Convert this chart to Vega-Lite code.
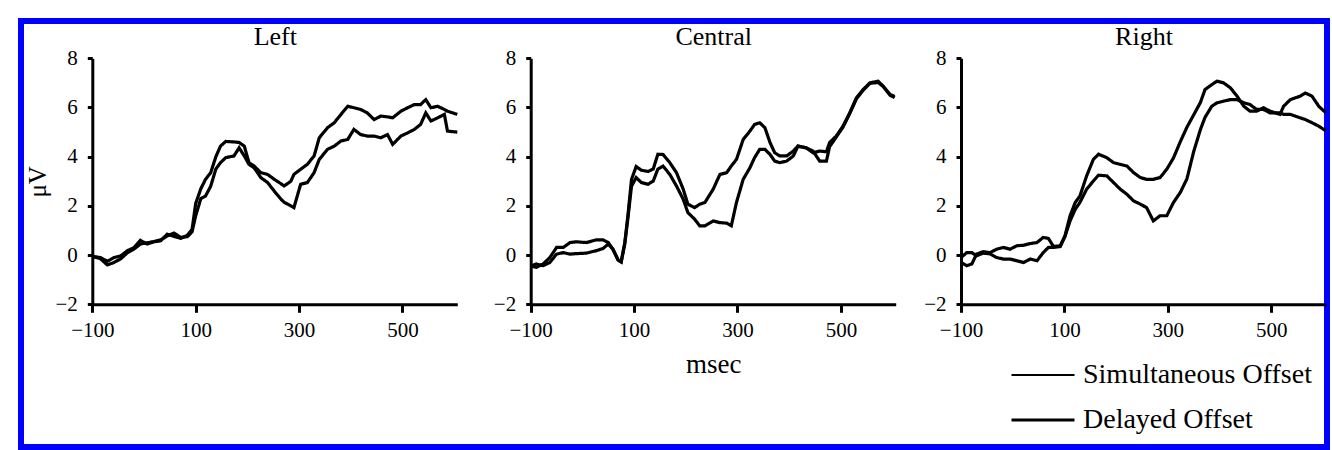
{
  "$schema": "https://vega.github.io/schema/vega-lite/v6.json",
  "width": 1306,
  "height": 426,
  "autosize": "none",
  "padding": {"left": 21, "top": 21, "right": 5, "bottom": 3},
  "background": "white",
  "datasets": {
    "left": [
      {"c":"Simultaneous Offset","t":-100,"v":-0.05},{"c":"Simultaneous Offset","t":-84,"v":-0.1},{"c":"Simultaneous Offset","t":-71,"v":-0.25},{"c":"Simultaneous Offset","t":-58,"v":-0.1},{"c":"Simultaneous Offset","t":-45,"v":-0.03},{"c":"Simultaneous Offset","t":-32,"v":0.18},{"c":"Simultaneous Offset","t":-19,"v":0.31},{"c":"Simultaneous Offset","t":-7,"v":0.6},{"c":"Simultaneous Offset","t":6,"v":0.45},{"c":"Simultaneous Offset","t":19,"v":0.54},{"c":"Simultaneous Offset","t":32,"v":0.58},{"c":"Simultaneous Offset","t":45,"v":0.85},{"c":"Simultaneous Offset","t":58,"v":0.76},{"c":"Simultaneous Offset","t":71,"v":0.68},{"c":"Simultaneous Offset","t":84,"v":0.81},{"c":"Simultaneous Offset","t":93,"v":1.05},{"c":"Simultaneous Offset","t":100,"v":2.1},{"c":"Simultaneous Offset","t":110,"v":2.7},{"c":"Simultaneous Offset","t":119,"v":3.08},{"c":"Simultaneous Offset","t":129,"v":3.35},{"c":"Simultaneous Offset","t":139,"v":4.0},{"c":"Simultaneous Offset","t":148,"v":4.43},{"c":"Simultaneous Offset","t":158,"v":4.62},{"c":"Simultaneous Offset","t":174,"v":4.6},{"c":"Simultaneous Offset","t":184,"v":4.58},{"c":"Simultaneous Offset","t":194,"v":4.43},{"c":"Simultaneous Offset","t":203,"v":3.76},{"c":"Simultaneous Offset","t":213,"v":3.62},{"c":"Simultaneous Offset","t":226,"v":3.35},{"c":"Simultaneous Offset","t":239,"v":3.28},{"c":"Simultaneous Offset","t":252,"v":3.08},{"c":"Simultaneous Offset","t":265,"v":2.9},{"c":"Simultaneous Offset","t":271,"v":2.81},{"c":"Simultaneous Offset","t":284,"v":3.0},{"c":"Simultaneous Offset","t":290,"v":3.28},{"c":"Simultaneous Offset","t":303,"v":3.49},{"c":"Simultaneous Offset","t":316,"v":3.69},{"c":"Simultaneous Offset","t":329,"v":4.03},{"c":"Simultaneous Offset","t":339,"v":4.77},{"c":"Simultaneous Offset","t":355,"v":5.18},{"c":"Simultaneous Offset","t":368,"v":5.38},{"c":"Simultaneous Offset","t":381,"v":5.72},{"c":"Simultaneous Offset","t":394,"v":6.05},{"c":"Simultaneous Offset","t":406,"v":5.99},{"c":"Simultaneous Offset","t":419,"v":5.92},{"c":"Simultaneous Offset","t":432,"v":5.78},{"c":"Simultaneous Offset","t":445,"v":5.51},{"c":"Simultaneous Offset","t":458,"v":5.65},{"c":"Simultaneous Offset","t":471,"v":5.62},{"c":"Simultaneous Offset","t":481,"v":5.58},{"c":"Simultaneous Offset","t":497,"v":5.85},{"c":"Simultaneous Offset","t":510,"v":5.99},{"c":"Simultaneous Offset","t":523,"v":6.12},{"c":"Simultaneous Offset","t":535,"v":6.12},{"c":"Simultaneous Offset","t":545,"v":6.32},{"c":"Simultaneous Offset","t":555,"v":5.99},{"c":"Simultaneous Offset","t":568,"v":6.05},{"c":"Simultaneous Offset","t":581,"v":5.92},{"c":"Simultaneous Offset","t":587,"v":5.85},{"c":"Simultaneous Offset","t":606,"v":5.72},
      {"c":"Delayed Offset","t":-100,"v":-0.05},{"c":"Delayed Offset","t":-84,"v":-0.15},{"c":"Delayed Offset","t":-71,"v":-0.4},{"c":"Delayed Offset","t":-58,"v":-0.3},{"c":"Delayed Offset","t":-45,"v":-0.15},{"c":"Delayed Offset","t":-32,"v":0.1},{"c":"Delayed Offset","t":-19,"v":0.25},{"c":"Delayed Offset","t":-7,"v":0.45},{"c":"Delayed Offset","t":6,"v":0.5},{"c":"Delayed Offset","t":19,"v":0.55},{"c":"Delayed Offset","t":32,"v":0.62},{"c":"Delayed Offset","t":45,"v":0.78},{"c":"Delayed Offset","t":58,"v":0.9},{"c":"Delayed Offset","t":71,"v":0.72},{"c":"Delayed Offset","t":84,"v":0.75},{"c":"Delayed Offset","t":93,"v":0.95},{"c":"Delayed Offset","t":100,"v":1.6},{"c":"Delayed Offset","t":110,"v":2.3},{"c":"Delayed Offset","t":119,"v":2.4},{"c":"Delayed Offset","t":129,"v":2.8},{"c":"Delayed Offset","t":139,"v":3.5},{"c":"Delayed Offset","t":148,"v":3.76},{"c":"Delayed Offset","t":158,"v":3.96},{"c":"Delayed Offset","t":174,"v":4.03},{"c":"Delayed Offset","t":184,"v":4.36},{"c":"Delayed Offset","t":194,"v":4.03},{"c":"Delayed Offset","t":203,"v":3.69},{"c":"Delayed Offset","t":213,"v":3.55},{"c":"Delayed Offset","t":226,"v":3.15},{"c":"Delayed Offset","t":239,"v":2.95},{"c":"Delayed Offset","t":252,"v":2.6},{"c":"Delayed Offset","t":265,"v":2.27},{"c":"Delayed Offset","t":271,"v":2.15},{"c":"Delayed Offset","t":284,"v":2.0},{"c":"Delayed Offset","t":290,"v":1.93},{"c":"Delayed Offset","t":303,"v":2.88},{"c":"Delayed Offset","t":316,"v":2.95},{"c":"Delayed Offset","t":329,"v":3.35},{"c":"Delayed Offset","t":339,"v":3.89},{"c":"Delayed Offset","t":355,"v":4.3},{"c":"Delayed Offset","t":368,"v":4.43},{"c":"Delayed Offset","t":381,"v":4.64},{"c":"Delayed Offset","t":394,"v":4.7},{"c":"Delayed Offset","t":406,"v":5.11},{"c":"Delayed Offset","t":419,"v":4.9},{"c":"Delayed Offset","t":432,"v":4.84},{"c":"Delayed Offset","t":445,"v":4.84},{"c":"Delayed Offset","t":458,"v":4.77},{"c":"Delayed Offset","t":471,"v":4.9},{"c":"Delayed Offset","t":481,"v":4.5},{"c":"Delayed Offset","t":497,"v":4.84},{"c":"Delayed Offset","t":510,"v":4.97},{"c":"Delayed Offset","t":523,"v":5.11},{"c":"Delayed Offset","t":535,"v":5.31},{"c":"Delayed Offset","t":545,"v":5.78},{"c":"Delayed Offset","t":555,"v":5.45},{"c":"Delayed Offset","t":568,"v":5.58},{"c":"Delayed Offset","t":581,"v":5.72},{"c":"Delayed Offset","t":587,"v":5.04},{"c":"Delayed Offset","t":606,"v":5.0}
    ],
    "central": [
      {"c":"Simultaneous Offset","t":-100,"v":-0.45},{"c":"Simultaneous Offset","t":-89,"v":-0.5},{"c":"Simultaneous Offset","t":-76,"v":-0.36},{"c":"Simultaneous Offset","t":-63,"v":-0.1},{"c":"Simultaneous Offset","t":-50,"v":0.31},{"c":"Simultaneous Offset","t":-37,"v":0.31},{"c":"Simultaneous Offset","t":-24,"v":0.51},{"c":"Simultaneous Offset","t":-12,"v":0.54},{"c":"Simultaneous Offset","t":8,"v":0.51},{"c":"Simultaneous Offset","t":27,"v":0.62},{"c":"Simultaneous Offset","t":40,"v":0.62},{"c":"Simultaneous Offset","t":50,"v":0.51},{"c":"Simultaneous Offset","t":59,"v":0.24},{"c":"Simultaneous Offset","t":69,"v":-0.2},{"c":"Simultaneous Offset","t":75,"v":-0.28},{"c":"Simultaneous Offset","t":82,"v":0.51},{"c":"Simultaneous Offset","t":88,"v":1.6},{"c":"Simultaneous Offset","t":95,"v":3.08},{"c":"Simultaneous Offset","t":104,"v":3.6},{"c":"Simultaneous Offset","t":114,"v":3.45},{"c":"Simultaneous Offset","t":127,"v":3.4},{"c":"Simultaneous Offset","t":137,"v":3.5},{"c":"Simultaneous Offset","t":146,"v":4.1},{"c":"Simultaneous Offset","t":156,"v":4.09},{"c":"Simultaneous Offset","t":169,"v":3.76},{"c":"Simultaneous Offset","t":182,"v":3.35},{"c":"Simultaneous Offset","t":195,"v":2.68},{"c":"Simultaneous Offset","t":204,"v":2.07},{"c":"Simultaneous Offset","t":217,"v":1.93},{"c":"Simultaneous Offset","t":227,"v":2.07},{"c":"Simultaneous Offset","t":237,"v":2.14},{"c":"Simultaneous Offset","t":253,"v":2.68},{"c":"Simultaneous Offset","t":266,"v":3.28},{"c":"Simultaneous Offset","t":279,"v":3.35},{"c":"Simultaneous Offset","t":288,"v":3.62},{"c":"Simultaneous Offset","t":298,"v":3.89},{"c":"Simultaneous Offset","t":311,"v":4.7},{"c":"Simultaneous Offset","t":324,"v":5.04},{"c":"Simultaneous Offset","t":333,"v":5.31},{"c":"Simultaneous Offset","t":343,"v":5.38},{"c":"Simultaneous Offset","t":353,"v":5.18},{"c":"Simultaneous Offset","t":363,"v":4.57},{"c":"Simultaneous Offset","t":372,"v":4.16},{"c":"Simultaneous Offset","t":382,"v":4.03},{"c":"Simultaneous Offset","t":395,"v":4.03},{"c":"Simultaneous Offset","t":408,"v":4.23},{"c":"Simultaneous Offset","t":417,"v":4.43},{"c":"Simultaneous Offset","t":433,"v":4.36},{"c":"Simultaneous Offset","t":446,"v":4.16},{"c":"Simultaneous Offset","t":459,"v":4.23},{"c":"Simultaneous Offset","t":472,"v":4.2},{"c":"Simultaneous Offset","t":478,"v":4.57},{"c":"Simultaneous Offset","t":491,"v":4.84},{"c":"Simultaneous Offset","t":504,"v":5.24},{"c":"Simultaneous Offset","t":517,"v":5.78},{"c":"Simultaneous Offset","t":530,"v":6.39},{"c":"Simultaneous Offset","t":543,"v":6.73},{"c":"Simultaneous Offset","t":556,"v":7.0},{"c":"Simultaneous Offset","t":572,"v":7.07},{"c":"Simultaneous Offset","t":582,"v":6.86},{"c":"Simultaneous Offset","t":595,"v":6.53},{"c":"Simultaneous Offset","t":604,"v":6.45},
      {"c":"Delayed Offset","t":-100,"v":-0.45},{"c":"Delayed Offset","t":-89,"v":-0.36},{"c":"Delayed Offset","t":-76,"v":-0.43},{"c":"Delayed Offset","t":-63,"v":-0.3},{"c":"Delayed Offset","t":-50,"v":0.04},{"c":"Delayed Offset","t":-37,"v":0.1},{"c":"Delayed Offset","t":-24,"v":0.04},{"c":"Delayed Offset","t":-12,"v":0.06},{"c":"Delayed Offset","t":8,"v":0.08},{"c":"Delayed Offset","t":27,"v":0.18},{"c":"Delayed Offset","t":40,"v":0.27},{"c":"Delayed Offset","t":50,"v":0.45},{"c":"Delayed Offset","t":59,"v":0.24},{"c":"Delayed Offset","t":69,"v":-0.2},{"c":"Delayed Offset","t":75,"v":-0.28},{"c":"Delayed Offset","t":82,"v":0.45},{"c":"Delayed Offset","t":88,"v":1.5},{"c":"Delayed Offset","t":95,"v":2.8},{"c":"Delayed Offset","t":104,"v":3.15},{"c":"Delayed Offset","t":114,"v":2.95},{"c":"Delayed Offset","t":127,"v":2.88},{"c":"Delayed Offset","t":137,"v":3.01},{"c":"Delayed Offset","t":146,"v":3.5},{"c":"Delayed Offset","t":156,"v":3.62},{"c":"Delayed Offset","t":169,"v":3.28},{"c":"Delayed Offset","t":182,"v":2.81},{"c":"Delayed Offset","t":195,"v":2.27},{"c":"Delayed Offset","t":204,"v":1.73},{"c":"Delayed Offset","t":217,"v":1.46},{"c":"Delayed Offset","t":227,"v":1.19},{"c":"Delayed Offset","t":237,"v":1.19},{"c":"Delayed Offset","t":253,"v":1.39},{"c":"Delayed Offset","t":266,"v":1.32},{"c":"Delayed Offset","t":279,"v":1.3},{"c":"Delayed Offset","t":288,"v":1.19},{"c":"Delayed Offset","t":298,"v":2.14},{"c":"Delayed Offset","t":311,"v":3.08},{"c":"Delayed Offset","t":324,"v":3.55},{"c":"Delayed Offset","t":333,"v":3.96},{"c":"Delayed Offset","t":343,"v":4.3},{"c":"Delayed Offset","t":353,"v":4.3},{"c":"Delayed Offset","t":363,"v":4.09},{"c":"Delayed Offset","t":372,"v":3.82},{"c":"Delayed Offset","t":382,"v":3.76},{"c":"Delayed Offset","t":395,"v":3.82},{"c":"Delayed Offset","t":408,"v":4.03},{"c":"Delayed Offset","t":417,"v":4.43},{"c":"Delayed Offset","t":433,"v":4.36},{"c":"Delayed Offset","t":446,"v":4.23},{"c":"Delayed Offset","t":459,"v":3.82},{"c":"Delayed Offset","t":472,"v":3.82},{"c":"Delayed Offset","t":478,"v":4.4},{"c":"Delayed Offset","t":491,"v":4.8},{"c":"Delayed Offset","t":504,"v":5.2},{"c":"Delayed Offset","t":517,"v":5.75},{"c":"Delayed Offset","t":530,"v":6.35},{"c":"Delayed Offset","t":543,"v":6.7},{"c":"Delayed Offset","t":556,"v":6.98},{"c":"Delayed Offset","t":572,"v":7.02},{"c":"Delayed Offset","t":582,"v":6.85},{"c":"Delayed Offset","t":595,"v":6.5},{"c":"Delayed Offset","t":604,"v":6.4}
    ],
    "right": [
      {"c":"Simultaneous Offset","t":-100,"v":-0.3},{"c":"Simultaneous Offset","t":-89,"v":-0.43},{"c":"Simultaneous Offset","t":-79,"v":-0.36},{"c":"Simultaneous Offset","t":-70,"v":0.04},{"c":"Simultaneous Offset","t":-57,"v":0.14},{"c":"Simultaneous Offset","t":-44,"v":0.1},{"c":"Simultaneous Offset","t":-31,"v":0.24},{"c":"Simultaneous Offset","t":-18,"v":0.31},{"c":"Simultaneous Offset","t":-5,"v":0.24},{"c":"Simultaneous Offset","t":8,"v":0.38},{"c":"Simultaneous Offset","t":21,"v":0.4},{"c":"Simultaneous Offset","t":34,"v":0.47},{"c":"Simultaneous Offset","t":47,"v":0.51},{"c":"Simultaneous Offset","t":59,"v":0.72},{"c":"Simultaneous Offset","t":69,"v":0.68},{"c":"Simultaneous Offset","t":79,"v":0.35},{"c":"Simultaneous Offset","t":92,"v":0.38},{"c":"Simultaneous Offset","t":101,"v":0.78},{"c":"Simultaneous Offset","t":111,"v":1.6},{"c":"Simultaneous Offset","t":121,"v":2.14},{"c":"Simultaneous Offset","t":130,"v":2.4},{"c":"Simultaneous Offset","t":143,"v":3.22},{"c":"Simultaneous Offset","t":156,"v":3.89},{"c":"Simultaneous Offset","t":166,"v":4.1},{"c":"Simultaneous Offset","t":182,"v":3.96},{"c":"Simultaneous Offset","t":195,"v":3.76},{"c":"Simultaneous Offset","t":208,"v":3.69},{"c":"Simultaneous Offset","t":221,"v":3.62},{"c":"Simultaneous Offset","t":234,"v":3.35},{"c":"Simultaneous Offset","t":247,"v":3.15},{"c":"Simultaneous Offset","t":259,"v":3.08},{"c":"Simultaneous Offset","t":272,"v":3.08},{"c":"Simultaneous Offset","t":285,"v":3.15},{"c":"Simultaneous Offset","t":298,"v":3.49},{"c":"Simultaneous Offset","t":311,"v":3.95},{"c":"Simultaneous Offset","t":324,"v":4.6},{"c":"Simultaneous Offset","t":337,"v":5.2},{"c":"Simultaneous Offset","t":350,"v":5.7},{"c":"Simultaneous Offset","t":363,"v":6.2},{"c":"Simultaneous Offset","t":372,"v":6.73},{"c":"Simultaneous Offset","t":385,"v":6.93},{"c":"Simultaneous Offset","t":395,"v":7.07},{"c":"Simultaneous Offset","t":408,"v":7.0},{"c":"Simultaneous Offset","t":421,"v":6.8},{"c":"Simultaneous Offset","t":434,"v":6.46},{"c":"Simultaneous Offset","t":447,"v":6.05},{"c":"Simultaneous Offset","t":459,"v":5.85},{"c":"Simultaneous Offset","t":472,"v":5.85},{"c":"Simultaneous Offset","t":485,"v":5.99},{"c":"Simultaneous Offset","t":498,"v":5.85},{"c":"Simultaneous Offset","t":517,"v":5.72},{"c":"Simultaneous Offset","t":524,"v":6.05},{"c":"Simultaneous Offset","t":537,"v":6.32},{"c":"Simultaneous Offset","t":556,"v":6.46},{"c":"Simultaneous Offset","t":566,"v":6.59},{"c":"Simultaneous Offset","t":579,"v":6.46},{"c":"Simultaneous Offset","t":592,"v":6.05},{"c":"Simultaneous Offset","t":606,"v":5.78},
      {"c":"Delayed Offset","t":-100,"v":-0.1},{"c":"Delayed Offset","t":-89,"v":0.1},{"c":"Delayed Offset","t":-79,"v":0.1},{"c":"Delayed Offset","t":-70,"v":-0.03},{"c":"Delayed Offset","t":-57,"v":0.08},{"c":"Delayed Offset","t":-44,"v":0.05},{"c":"Delayed Offset","t":-31,"v":-0.1},{"c":"Delayed Offset","t":-18,"v":-0.16},{"c":"Delayed Offset","t":-5,"v":-0.16},{"c":"Delayed Offset","t":8,"v":-0.23},{"c":"Delayed Offset","t":21,"v":-0.3},{"c":"Delayed Offset","t":34,"v":-0.16},{"c":"Delayed Offset","t":47,"v":-0.23},{"c":"Delayed Offset","t":59,"v":0.1},{"c":"Delayed Offset","t":69,"v":0.31},{"c":"Delayed Offset","t":79,"v":0.31},{"c":"Delayed Offset","t":92,"v":0.35},{"c":"Delayed Offset","t":101,"v":0.75},{"c":"Delayed Offset","t":111,"v":1.39},{"c":"Delayed Offset","t":121,"v":1.86},{"c":"Delayed Offset","t":130,"v":2.14},{"c":"Delayed Offset","t":143,"v":2.68},{"c":"Delayed Offset","t":156,"v":3.01},{"c":"Delayed Offset","t":166,"v":3.25},{"c":"Delayed Offset","t":182,"v":3.22},{"c":"Delayed Offset","t":195,"v":2.95},{"c":"Delayed Offset","t":208,"v":2.68},{"c":"Delayed Offset","t":221,"v":2.47},{"c":"Delayed Offset","t":234,"v":2.2},{"c":"Delayed Offset","t":247,"v":2.07},{"c":"Delayed Offset","t":259,"v":1.93},{"c":"Delayed Offset","t":272,"v":1.39},{"c":"Delayed Offset","t":285,"v":1.6},{"c":"Delayed Offset","t":298,"v":1.6},{"c":"Delayed Offset","t":311,"v":2.14},{"c":"Delayed Offset","t":324,"v":2.54},{"c":"Delayed Offset","t":337,"v":3.1},{"c":"Delayed Offset","t":350,"v":4.2},{"c":"Delayed Offset","t":363,"v":5.1},{"c":"Delayed Offset","t":372,"v":5.6},{"c":"Delayed Offset","t":385,"v":6.05},{"c":"Delayed Offset","t":395,"v":6.19},{"c":"Delayed Offset","t":408,"v":6.26},{"c":"Delayed Offset","t":421,"v":6.32},{"c":"Delayed Offset","t":434,"v":6.32},{"c":"Delayed Offset","t":447,"v":6.19},{"c":"Delayed Offset","t":459,"v":6.12},{"c":"Delayed Offset","t":472,"v":5.92},{"c":"Delayed Offset","t":485,"v":5.92},{"c":"Delayed Offset","t":498,"v":5.78},{"c":"Delayed Offset","t":517,"v":5.78},{"c":"Delayed Offset","t":524,"v":5.72},{"c":"Delayed Offset","t":537,"v":5.72},{"c":"Delayed Offset","t":556,"v":5.58},{"c":"Delayed Offset","t":566,"v":5.51},{"c":"Delayed Offset","t":579,"v":5.38},{"c":"Delayed Offset","t":592,"v":5.24},{"c":"Delayed Offset","t":606,"v":5.05}
    ]
  },
  "layer": [
    {
      "data": {"name": "left"},
      "mark": {"type": "line", "stroke": "black", "strokeWidth": 3.2},
      "encoding": {
        "x": {"field": "t", "type": "quantitative", "scale": {"domain": [-100, 606], "range": [71.3, 436.3], "nice": false, "zero": false},
              "axis": {"orient": "bottom", "offset": -142.7, "values": [-100, 100, 300, 500], "title": null}},
        "y": {"field": "v", "type": "quantitative", "scale": {"domain": [-2, 8], "range": [283.3, 37.3], "nice": false, "zero": false},
              "axis": {"orient": "left", "offset": -71.3, "values": [-2, 0, 2, 4, 6, 8], "title": "μV"}},
        "strokeDash": {"field": "c", "type": "nominal",
          "scale": {"domain": ["Simultaneous Offset", "Delayed Offset"], "range": [[1, 0], [1, 0]]},
          "legend": {"orient": "none", "legendX": 1008, "legendY": 340,
            "encode": {"symbols": {"update": {"strokeDash": {"signal": "datum.value === 'Simultaneous Offset' ? [1, 1] : [1, 0]"}, "strokeWidth": {"signal": "datum.value === 'Simultaneous Offset' ? 2.2 : 3"}}}}}}
      }
    },
    {
      "data": {"name": "left"},
      "mark": {"type": "point", "opacity": 0},
      "encoding": {
        "x": {"field": "t", "type": "quantitative", "scale": {"domain": [-100, 606], "range": [71.3, 436.3], "nice": false, "zero": false},
              "axis": {"orient": "top", "offset": -23, "domain": false, "ticks": false, "labels": false, "title": "Left", "titlePadding": 0, "titleBaseline": "alphabetic", "titleFontSize": 26}}
      }
    },
    {
      "data": {"name": "central"},
      "mark": {"type": "line", "stroke": "black", "strokeWidth": 3.2},
      "encoding": {
        "x": {"field": "t", "type": "quantitative", "scale": {"domain": [-100, 606], "range": [509.7, 874.7], "nice": false, "zero": false},
              "axis": {"orient": "bottom", "offset": -142.7, "values": [-100, 100, 300, 500], "title": "msec", "titleFontSize": 27, "titlePadding": 11}},
        "y": {"field": "v", "type": "quantitative", "scale": {"domain": [-2, 8], "range": [283.3, 37.3], "nice": false, "zero": false},
              "axis": {"orient": "left", "offset": -509.7, "values": [-2, 0, 2, 4, 6, 8], "title": null}},
        "strokeDash": {"field": "c", "type": "nominal",
          "scale": {"domain": ["Simultaneous Offset", "Delayed Offset"], "range": [[1, 0], [1, 0]]},
          "legend": {"orient": "none", "legendX": 1008, "legendY": 340,
            "encode": {"symbols": {"update": {"strokeDash": {"signal": "datum.value === 'Simultaneous Offset' ? [1, 1] : [1, 0]"}, "strokeWidth": {"signal": "datum.value === 'Simultaneous Offset' ? 2.2 : 3"}}}}}}
      }
    },
    {
      "data": {"name": "central"},
      "mark": {"type": "point", "opacity": 0},
      "encoding": {
        "x": {"field": "t", "type": "quantitative", "scale": {"domain": [-100, 606], "range": [509.7, 874.7], "nice": false, "zero": false},
              "axis": {"orient": "top", "offset": -23, "domain": false, "ticks": false, "labels": false, "title": "Central", "titlePadding": 0, "titleBaseline": "alphabetic", "titleFontSize": 26}}
      }
    },
    {
      "data": {"name": "right"},
      "mark": {"type": "line", "stroke": "black", "strokeWidth": 3.2},
      "encoding": {
        "x": {"field": "t", "type": "quantitative", "scale": {"domain": [-100, 606], "range": [940, 1305], "nice": false, "zero": false},
              "axis": {"orient": "bottom", "offset": -142.7, "values": [-100, 100, 300, 500], "title": null}},
        "y": {"field": "v", "type": "quantitative", "scale": {"domain": [-2, 8], "range": [283.3, 37.3], "nice": false, "zero": false},
              "axis": {"orient": "left", "offset": -940, "values": [-2, 0, 2, 4, 6, 8], "title": null}},
        "strokeDash": {"field": "c", "type": "nominal",
          "scale": {"domain": ["Simultaneous Offset", "Delayed Offset"], "range": [[1, 0], [1, 0]]},
          "legend": {"orient": "none", "legendX": 1008, "legendY": 340,
            "encode": {"symbols": {"update": {"strokeDash": {"signal": "datum.value === 'Simultaneous Offset' ? [1, 1] : [1, 0]"}, "strokeWidth": {"signal": "datum.value === 'Simultaneous Offset' ? 2.2 : 3"}}}}}}
      }
    },
    {
      "data": {"name": "right"},
      "mark": {"type": "point", "opacity": 0},
      "encoding": {
        "x": {"field": "t", "type": "quantitative", "scale": {"domain": [-100, 606], "range": [940, 1305], "nice": false, "zero": false},
              "axis": {"orient": "top", "offset": -23, "domain": false, "ticks": false, "labels": false, "title": "Right", "titlePadding": 0, "titleBaseline": "alphabetic", "titleFontSize": 26}}
      }
    }
  ],
  "resolve": {"scale": {"x": "independent", "y": "independent"}, "axis": {"x": "independent", "y": "independent"}},
  "config": {
    "font": "Liberation Serif",
    "view": {"stroke": "#0000ff", "strokeWidth": 6, "fill": "white"},
    "axis": {"grid": false, "domainColor": "black", "domainWidth": 3, "tickColor": "black", "tickWidth": 3,
             "labelColor": "black", "labelFont": "Liberation Serif", "labelFontSize": 21, "labelFlush": false,
             "titleFont": "Liberation Serif", "titleColor": "black", "titleFontWeight": "normal", "titleFontSize": 25},
    "axisX": {"tickSize": 8, "labelPadding": 7},
    "axisY": {"tickSize": 5, "labelPadding": 10, "titlePadding": 4},
    "legend": {"title": null, "padding": 0,
               "symbolType": "stroke", "symbolSize": 3969, "symbolStrokeWidth": 3, "symbolStrokeColor": "black",
               "labelFont": "Liberation Serif", "labelFontSize": 28, "labelColor": "black", "labelOffset": 26, "labelLimit": 400,
               "rowPadding": 17}
  }
}
